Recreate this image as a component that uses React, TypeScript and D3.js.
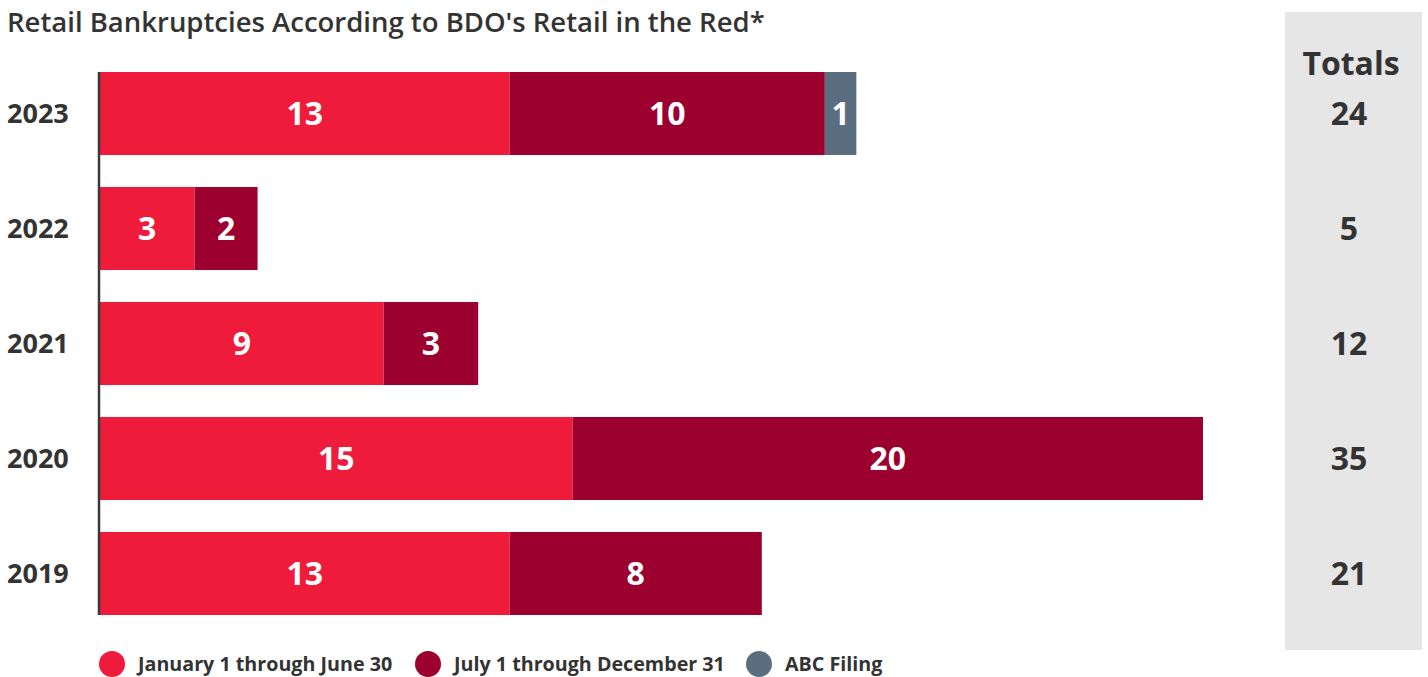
import React from "react";
import * as d3 from "d3";

const years = ["2023", "2022", "2021", "2020", "2019"];
const firstHalf = [13, 3, 9, 15, 13];
const secondHalf = [10, 2, 3, 20, 8];
const abcFiling = [1, 0, 0, 0, 0];
const seriesNames = ["January 1 through June 30", "July 1 through December 31", "ABC Filing"];
const seriesColors = ["#ee1b3b", "#9b002f", "#5b6e7f"];
const title = "Retail Bankruptcies According to BDO's Retail in the Red*";

const W = 1428;
const H = 677;
const FONT = "'Open Sans', 'Noto Sans', sans-serif";
const TXT = "#333333";

export default function App() {
  const x = d3.scaleLinear().domain([0, 35]).range([100, 1203]);
  const y = d3.scaleBand().domain(years).range([72, 615]).paddingInner(0.278).paddingOuter(0);
  const rows = years.map((yr, i) => ({ year: yr, vals: [firstHalf[i], secondHalf[i], abcFiling[i]] }));
  const stack = d3.stack<any>().keys(["0", "1", "2"]).value((d, k) => d.vals[+k]);
  const series = stack(rows);
  const bh = y.bandwidth();
  const legendX = [112, 428, 759];

  return (
    <svg width={W} height={H} style={{ position: "absolute", left: 0, top: 0 }} fontFamily={FONT}>
      <text x={7} y={32} fontSize={27.5} fontWeight={600} fill={TXT}>{title}</text>
      <rect x={1285} y={12} width={137} height={638} fill="#e6e6e6" />
      <text x={1351} y={75} fontSize={32} fontWeight={700} fill={TXT} textAnchor="middle">Totals</text>
      {series.map((s, si) => (
        <g key={si}>
          {s.map((d, i) => {
            const v = d[1] - d[0];
            if (v <= 0) return null;
            const x0 = x(d[0]);
            const x1 = x(d[1]);
            const yy = y(rows[i].year)!;
            return (
              <g key={i}>
                <rect x={x0} y={yy} width={x1 - x0} height={bh} fill={seriesColors[si]} />
                <text x={(x0 + x1) / 2} y={yy + bh / 2} dy="0.36em" fontSize={32} fontWeight={700} fill="#fff" textAnchor="middle">{v}</text>
              </g>
            );
          })}
        </g>
      ))}
      <line x1={99} x2={99} y1={72} y2={615} stroke="#3a3a3a" strokeWidth={2.5} />
      {rows.map((r, i) => {
        const yy = y(r.year)! + bh / 2;
        const total = r.vals.reduce((a, b) => a + b, 0);
        return (
          <g key={r.year}>
            <text x={7} y={yy} dy="0.36em" fontSize={27} fontWeight={700} fill={TXT}>{r.year}</text>
            <text x={1349} y={yy} dy="0.36em" fontSize={32} fontWeight={700} fill={TXT} textAnchor="middle">{total}</text>
          </g>
        );
      })}
      {seriesNames.map((n, i) => (
        <g key={n}>
          <circle cx={legendX[i]} cy={664} r={13} fill={seriesColors[i]} />
          <text x={legendX[i] + 26} y={664} dy="0.36em" fontSize={19.7} fontWeight={700} fill={TXT}>{n}</text>
        </g>
      ))}
    </svg>
  );
}
